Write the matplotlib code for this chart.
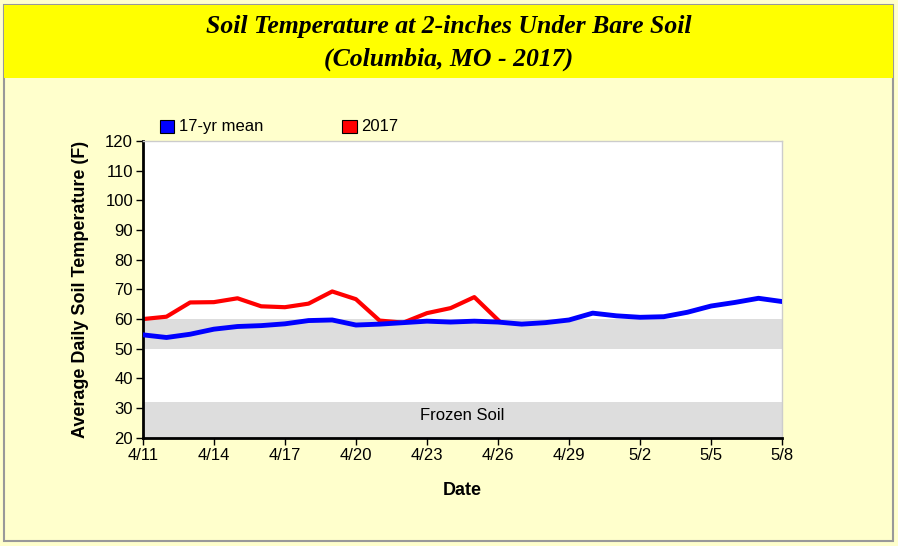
import matplotlib.pyplot as plt
from matplotlib.patches import Rectangle

# day offsets from 4/11
days_mean = list(range(28))
mean_17yr = [54.7, 53.8, 54.9, 56.6, 57.5, 57.8, 58.4, 59.5, 59.7, 58.0,
             58.3, 58.8, 59.3, 59.0, 59.3, 59.0, 58.3, 58.8, 59.7, 62.0,
             61.1, 60.6, 60.8, 62.3, 64.4, 65.6, 67.0, 65.9]
days_2017 = list(range(16))
temp_2017 = [60.0, 60.8, 65.6, 65.7, 67.0, 64.3, 64.0, 65.2, 69.3, 66.7,
             59.5, 58.8, 62.0, 63.7, 67.4, 59.7]
tick_days = [0, 3, 6, 9, 12, 15, 18, 21, 24, 27]
tick_labels = ["4/11", "4/14", "4/17", "4/20", "4/23", "4/26", "4/29", "5/2", "5/5", "5/8"]

plt.rcParams['font.family'] = ['Liberation Sans', 'DejaVu Sans']

fig = plt.figure(figsize=(8.98, 5.46), dpi=100)
fig.patch.set_facecolor('#FFFFCC')

# outer frame and title band
fig.patches.append(Rectangle((0.004, 0.01), 0.99, 0.98, transform=fig.transFigure,
                             facecolor='none', edgecolor='#999999', lw=1.5))
fig.patches.append(Rectangle((0.005, 0.857), 0.989, 0.133, transform=fig.transFigure,
                             facecolor='#FFFF00', edgecolor='none'))
fig.text(0.5, 0.952, "Soil Temperature at 2-inches Under Bare Soil", ha='center', va='center',
         fontsize=18.5, fontweight='bold', fontstyle='italic', family='Liberation Serif')
fig.text(0.5, 0.891, "(Columbia, MO - 2017)", ha='center', va='center',
         fontsize=18.5, fontweight='bold', fontstyle='italic', family='Liberation Serif')

ax = fig.add_axes([0.159, 0.198, 0.712, 0.544])
ax.set_facecolor('white')
ax.axhspan(50, 60, color='#DDDDDD', lw=0, zorder=0)
ax.axhspan(20, 32, color='#DDDDDD', lw=0, zorder=0)
ax.text(13.5, 27.5, "Frozen Soil", ha='center', va='center', fontsize=12)

ax.plot(days_2017, temp_2017, color='#FF0000', lw=3, zorder=2)
ax.plot(days_mean, mean_17yr, color='#0000FF', lw=3.5, zorder=3)

ax.set_xlim(0, 27)
ax.set_ylim(20, 120)
ax.set_yticks(range(20, 121, 10))
ax.set_xticks(tick_days)
ax.set_xticklabels(tick_labels)
ax.tick_params(direction='out', length=5, width=1, labelsize=12, color='black', pad=2)
for s in ['left', 'bottom']:
    ax.spines[s].set_linewidth(2)
for s in ['top', 'right']:
    ax.spines[s].set_color('#CCCCCC')
    ax.spines[s].set_linewidth(1)

ax.set_xlabel("Date", fontsize=13, fontweight='bold', labelpad=14)
ax.set_ylabel("Average Daily Soil Temperature (F)", fontsize=13, fontweight='bold', labelpad=12)

# legend above plot
fig.patches.append(Rectangle((0.178, 0.757), 0.016, 0.024, transform=fig.transFigure,
                             facecolor='#0000FF', edgecolor='black', lw=0.8))
fig.text(0.199, 0.768, "17-yr mean", fontsize=12, va='center')
fig.patches.append(Rectangle((0.381, 0.757), 0.016, 0.024, transform=fig.transFigure,
                             facecolor='#FF0000', edgecolor='black', lw=0.8))
fig.text(0.402, 0.768, "2017", fontsize=12, va='center')

fig.savefig("out.png", dpi=100, facecolor=fig.get_facecolor())
